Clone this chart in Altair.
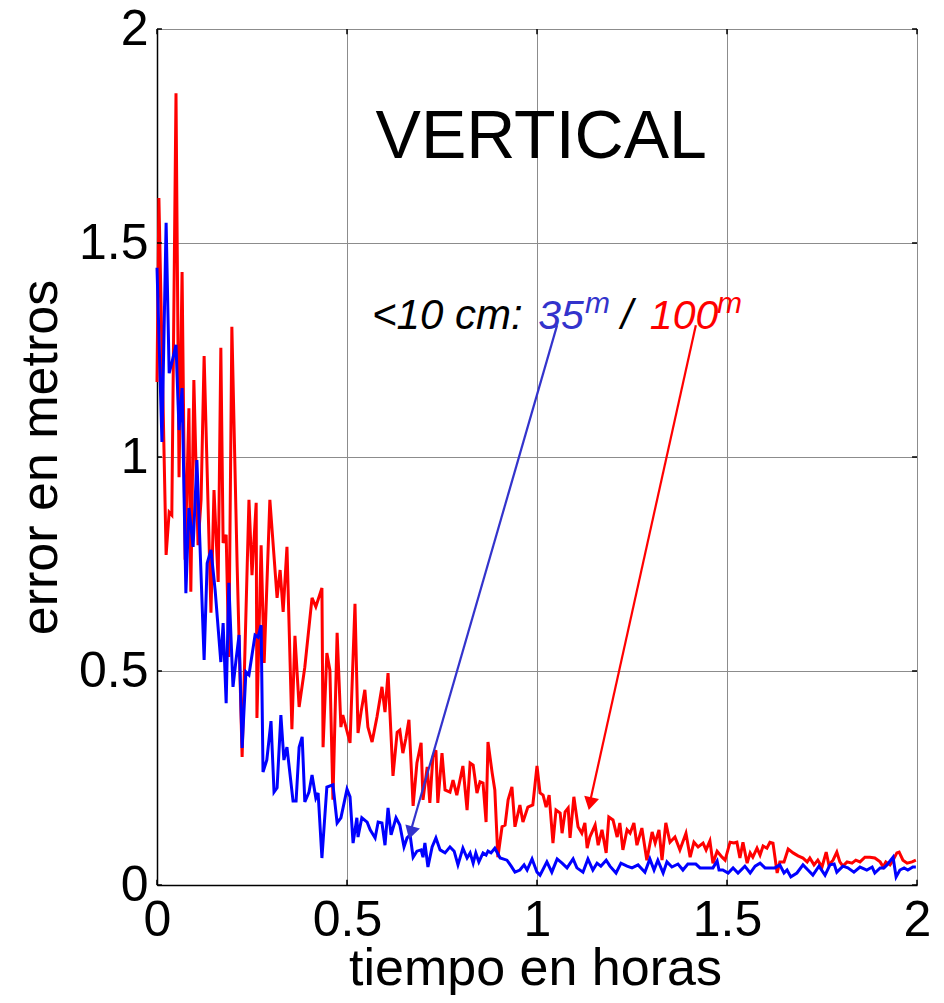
import altair as alt
import pandas as pd

# ---- data (hours, metres) ----
red_x = [0.000,0.005,0.024,0.032,0.039,0.050,0.058,0.066,0.074,0.084,
         0.089,0.097,0.108,0.116,0.124,0.134,0.142,0.150,0.161,0.168,
         0.174,0.182,0.189,0.197,0.211,0.224,0.242,0.250,0.261,0.263,
         0.274,0.282,0.297,0.316,0.324,0.332,0.342,0.355,0.363,0.374,
         0.389,0.408,0.418,0.434,0.437,0.447,0.455,0.463,0.474,0.484,
         0.489,0.508,0.521,0.529,0.537,0.547,0.555,0.566,0.579,0.592,
         0.600,0.608,0.621,0.632,0.639,0.647,0.655,0.663,0.674,0.684,
         0.695,0.700,0.711,0.718,0.726,0.734,0.739,0.750,0.758,0.771,
         0.779,0.789,0.805,0.816,0.824,0.832,0.842,0.850,0.858,0.866,
         0.871,0.882,0.889,0.897,0.908,0.916,0.924,0.934,0.942,0.955,
         0.963,0.976,0.989,1.000,1.008,1.016,1.024,1.032,1.042,1.050,
         1.061,1.066,1.074,1.082,1.087,1.097,1.108,1.118,1.126,1.132,
         1.139,1.153,1.161,1.171,1.182,1.189,1.200,1.211,1.218,1.226,
         1.237,1.245,1.255,1.263,1.276,1.289,1.303,1.311,1.321,1.329,
         1.339,1.350,1.363,1.376,1.392,1.403,1.413,1.424,1.437,1.445,
         1.455,1.463,1.474,1.487,1.495,1.508,1.518,1.526,1.534,1.542,
         1.553,1.561,1.568,1.579,1.587,1.595,1.605,1.613,1.621,1.632,
         1.639,1.650,1.661,1.674,1.687,1.700,1.711,1.718,1.729,1.739,
         1.750,1.761,1.768,1.779,1.789,1.797,1.805,1.816,1.829,1.839,
         1.850,1.863,1.876,1.889,1.903,1.911,1.918,1.929,1.937,1.947,
         1.953,1.963,1.974,1.987,1.997]
red_y = [1.175,1.605,0.771,0.871,0.864,1.850,0.953,1.432,0.760,1.114,
         0.685,1.180,0.794,0.900,1.236,0.900,0.636,0.923,0.708,1.255,
         0.799,0.818,0.533,1.304,0.743,0.299,0.900,0.724,0.893,0.390,
         0.794,0.519,0.900,0.671,0.736,0.638,0.790,0.364,0.582,0.416,
         0.509,0.671,0.650,0.694,0.322,0.542,0.502,0.199,0.589,0.369,
         0.397,0.332,0.657,0.355,0.404,0.456,0.369,0.334,0.393,0.463,
         0.404,0.495,0.255,0.357,0.362,0.308,0.343,0.386,0.185,0.285,
         0.332,0.199,0.276,0.192,0.299,0.315,0.192,0.308,0.222,0.217,
         0.245,0.210,0.278,0.175,0.285,0.280,0.215,0.241,0.238,0.147,
         0.334,0.262,0.222,0.065,0.136,0.140,0.199,0.229,0.136,0.187,
         0.147,0.182,0.187,0.278,0.215,0.210,0.182,0.210,0.098,0.175,
         0.168,0.121,0.171,0.180,0.110,0.206,0.136,0.121,0.145,0.086,
         0.112,0.140,0.093,0.129,0.075,0.159,0.152,0.112,0.145,0.082,
         0.129,0.121,0.145,0.093,0.133,0.058,0.124,0.098,0.129,0.058,
         0.145,0.100,0.112,0.082,0.121,0.065,0.100,0.089,0.098,0.082,
         0.103,0.051,0.079,0.065,0.058,0.100,0.098,0.100,0.063,0.100,
         0.051,0.075,0.065,0.086,0.070,0.091,0.086,0.100,0.098,0.028,
         0.054,0.054,0.084,0.075,0.068,0.063,0.054,0.063,0.047,0.058,
         0.042,0.077,0.047,0.058,0.077,0.054,0.044,0.054,0.051,0.058,
         0.054,0.065,0.065,0.063,0.054,0.042,0.054,0.047,0.058,0.075,
         0.077,0.058,0.051,0.054,0.058]

blue_x = [0.000,0.013,0.024,0.032,0.039,0.050,0.058,0.066,0.076,0.084,
          0.095,0.105,0.124,0.132,0.142,0.153,0.168,0.174,0.182,0.189,
          0.200,0.208,0.216,0.224,0.234,0.242,0.258,0.266,0.274,0.279,
          0.289,0.300,0.308,0.316,0.326,0.334,0.342,0.358,0.366,0.374,
          0.382,0.389,0.400,0.408,0.418,0.424,0.434,0.447,0.463,0.474,
          0.484,0.500,0.508,0.516,0.526,0.529,0.539,0.553,0.561,0.574,
          0.582,0.592,0.600,0.608,0.616,0.629,0.639,0.650,0.658,0.666,
          0.674,0.684,0.695,0.700,0.705,0.713,0.724,0.734,0.745,0.758,
          0.771,0.782,0.792,0.805,0.816,0.824,0.832,0.839,0.847,0.858,
          0.866,0.871,0.879,0.889,0.903,0.921,0.932,0.942,0.955,0.966,
          0.974,0.987,1.000,1.008,1.026,1.039,1.053,1.066,1.079,1.095,
          1.105,1.121,1.134,1.147,1.158,1.168,1.182,1.192,1.208,1.221,
          1.237,1.250,1.266,1.284,1.297,1.308,1.318,1.332,1.342,1.355,
          1.371,1.384,1.397,1.418,1.429,1.463,1.474,1.479,1.489,1.503,
          1.516,1.529,1.547,1.561,1.574,1.587,1.600,1.626,1.639,1.650,
          1.658,1.668,1.684,1.700,1.713,1.726,1.742,1.758,1.771,1.782,
          1.789,1.805,1.818,1.834,1.850,1.868,1.882,1.889,1.903,1.913,
          1.921,1.937,1.945,1.955,1.966,1.976,1.989,1.997]
blue_y = [1.442,1.035,1.547,1.196,1.220,1.262,1.063,1.161,0.682,0.881,
          0.790,0.993,0.526,0.752,0.783,0.689,0.521,0.612,0.425,0.706,
          0.463,0.526,0.584,0.320,0.498,0.491,0.584,0.579,0.607,0.264,
          0.292,0.383,0.217,0.227,0.397,0.292,0.322,0.196,0.196,0.322,
          0.346,0.194,0.217,0.257,0.203,0.215,0.063,0.229,0.234,0.145,
          0.157,0.224,0.206,0.098,0.157,0.112,0.157,0.147,0.129,0.110,
          0.147,0.145,0.093,0.180,0.117,0.157,0.140,0.089,0.110,0.117,
          0.065,0.079,0.082,0.065,0.098,0.042,0.089,0.110,0.082,0.075,
          0.089,0.079,0.047,0.086,0.063,0.075,0.051,0.075,0.054,0.075,
          0.070,0.079,0.075,0.086,0.063,0.058,0.044,0.030,0.035,0.047,
          0.035,0.061,0.030,0.023,0.054,0.030,0.061,0.051,0.040,0.061,
          0.040,0.030,0.061,0.035,0.051,0.044,0.058,0.044,0.028,0.051,
          0.044,0.040,0.047,0.030,0.061,0.035,0.058,0.028,0.054,0.042,
          0.049,0.035,0.049,0.049,0.040,0.040,0.056,0.035,0.035,0.028,
          0.040,0.028,0.044,0.028,0.044,0.051,0.040,0.040,0.047,0.028,
          0.035,0.019,0.028,0.047,0.035,0.023,0.044,0.023,0.047,0.049,
          0.030,0.044,0.040,0.030,0.042,0.035,0.042,0.028,0.040,0.040,
          0.047,0.065,0.019,0.035,0.040,0.035,0.042,0.042]

x_ticks = [0, 0.5, 1, 1.5, 2]
y_ticks = [0, 0.5, 1, 1.5, 2]

# annotation text pieces (data coordinates)
ann_text = ["<10 cm:", "35", "m", "/", "100", "m"]
ann_x = [0.566, 1.003, 1.126, 1.221, 1.297, 1.474]
ann_y = [1.299, 1.299, 1.336, 1.299, 1.299, 1.336]
ann_color = ["#000000", "#3333cc", "#3333cc", "#000000", "#ff0000", "#ff0000"]
ann_size = [42, 41, 30, 42, 41, 30]

# arrows (start -> end, data coordinates)
arrow_x = [1.053, 1.418]
arrow_y = [1.308, 1.308]
arrow_x2 = [0.666, 1.139]
arrow_y2 = [0.121, 0.192]
arrow_head_x = [0.668, 1.140]
arrow_head_y = [0.122, 0.190]
arrow_angle = [196, 192.5]
arrow_color = ["#3333cc", "#ff0000"]

title_text = ["VERTICAL"]
title_x = [1.011]
title_y = [1.699]

FONT = "Liberation Sans"

red_df = pd.DataFrame({"t": red_x, "e": red_y})
blue_df = pd.DataFrame({"t": blue_x, "e": blue_y})

xs = alt.Scale(domain=[0, 2], nice=False, zero=False)
ys = alt.Scale(domain=[0, 2], nice=False, zero=False)

x_axis = alt.Axis(values=x_ticks, format="~g", title="tiempo en horas",
                  labelFontSize=50, titleFontSize=52, labelPadding=10,
                  ticks=False, grid=True, gridColor="#8c8c8c", gridWidth=1,
                  domainColor="#000000", domainWidth=1.5, labelFlush=False,
                  labelOverlap=False, titleX=378, titleY=99,
                  titleBaseline="alphabetic", titleFontWeight="normal",
                  labelColor="#000000", titleColor="#000000",
                  labelFont=FONT, titleFont=FONT)
y_axis = alt.Axis(values=y_ticks, format="~g", title="error en metros",
                  labelFontSize=50, titleFontSize=52, labelPadding=9,
                  ticks=False, grid=True, gridColor="#8c8c8c", gridWidth=1,
                  domainColor="#000000", domainWidth=1.5, labelFlush=False,
                  labelOverlap=False, titleX=-101, titleY=428,
                  titleBaseline="alphabetic", titleAlign="center",
                  titleFontWeight="normal", labelColor="#000000",
                  titleColor="#000000", labelFont=FONT, titleFont=FONT)


def X(field):
    return alt.X(field, scale=xs, axis=x_axis)


def Y(field):
    return alt.Y(field, scale=ys, axis=y_axis)


red = alt.Chart(red_df).mark_line(color="#ff0000", strokeWidth=3).encode(
    x=X("t:Q"), y=Y("e:Q"),
)
blue = alt.Chart(blue_df).mark_line(color="#0000ff", strokeWidth=3).encode(
    x=X("t:Q"), y=Y("e:Q"),
)

# inward tick marks on all four sides
tk = []
for v in x_ticks:
    tk.append({"x": v, "x2": v, "y": 0, "y2": 0.012})
    tk.append({"x": v, "x2": v, "y": 2, "y2": 1.988})
for v in y_ticks:
    tk.append({"x": 0, "x2": 0.013, "y": v, "y2": v})
    tk.append({"x": 2, "x2": 1.987, "y": v, "y2": v})
ticks = alt.Chart(pd.DataFrame(tk)).mark_rule(color="#000000", strokeWidth=1.5).encode(
    x=X("x:Q"), x2="x2:Q", y=Y("y:Q"), y2="y2:Q",
)

title_df = pd.DataFrame({"x": title_x, "y": title_y, "text": title_text})
title = alt.Chart(title_df).mark_text(fontSize=68, font=FONT, color="#000000",
                                      align="center", baseline="alphabetic").encode(
    x=X("x:Q"), y=Y("y:Q"), text="text:N",
)

ann_df = pd.DataFrame({"x": ann_x, "y": ann_y, "text": ann_text,
                       "c": ann_color, "s": ann_size})
ann = alt.Chart(ann_df).mark_text(font=FONT, fontStyle="italic", align="left",
                                  baseline="alphabetic").encode(
    x=X("x:Q"), y=Y("y:Q"), text="text:N",
    color=alt.Color("c:N", scale=None),
    size=alt.Size("s:Q", scale=None),
)

arr_df = pd.DataFrame({"x": arrow_x, "y": arrow_y, "x2": arrow_x2, "y2": arrow_y2,
                       "hx": arrow_head_x, "hy": arrow_head_y,
                       "a": arrow_angle, "c": arrow_color})
arrows = alt.Chart(arr_df).mark_rule(strokeWidth=2.2).encode(
    x=X("x:Q"), x2="x2:Q", y=Y("y:Q"), y2="y2:Q",
    color=alt.Color("c:N", scale=None),
)
heads = alt.Chart(arr_df).mark_point(shape="triangle-up", filled=True, size=230,
                                     opacity=1).encode(
    x=X("hx:Q"), y=Y("hy:Q"),
    angle=alt.Angle("a:Q", scale=None),
    color=alt.Color("c:N", scale=None),
)

chart = alt.layer(red, blue, ticks, title, ann, arrows, heads).properties(
    width=760, height=856,
    autosize=alt.AutoSizeParams(type="none"),
    padding={"left": 149, "top": 21, "right": 19, "bottom": 110},
    background="#ffffff",
).configure_view(strokeWidth=0).configure(font=FONT)

chart.save("out.html", embed_options={"renderer": "svg", "actions": False})
